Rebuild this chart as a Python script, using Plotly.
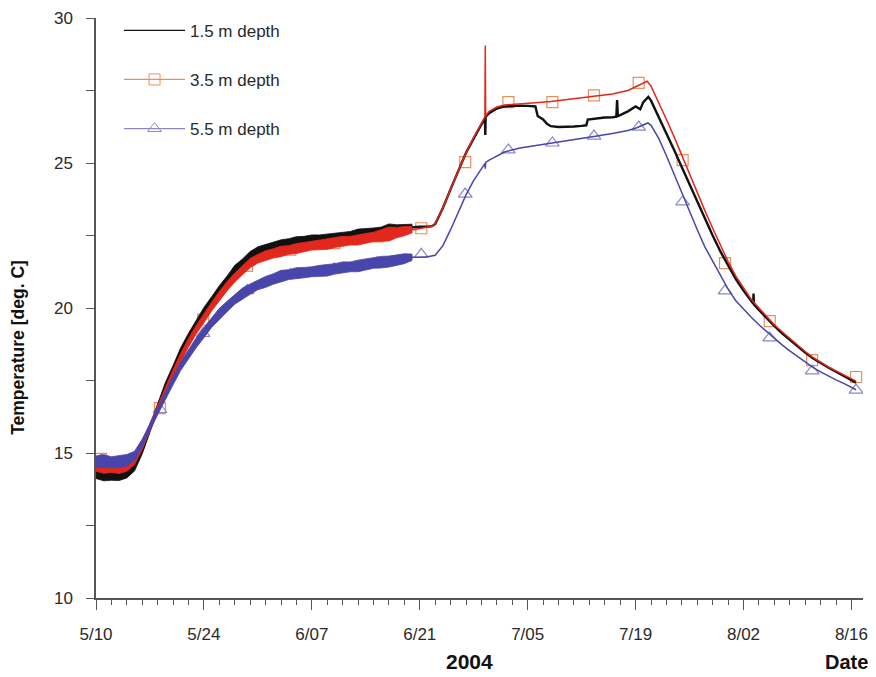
import pandas as pd
import plotly.graph_objects as go

START = pd.Timestamp("2004-05-10")

# ---------------- data (days after 5/10/2004, temperature deg C) ----------------
# noisy period: daily mean and diurnal range
noisy_days = [0, 1, 2, 3, 4, 5, 6, 7, 8, 9, 10, 11, 12, 13, 14, 15, 16, 17, 18, 19, 20,
              21, 22, 23, 24, 25, 26, 27, 28, 29, 30, 31, 32, 33, 34, 35, 36, 37, 38, 39, 40, 41]

d15_mean = [14.35, 14.30, 14.28, 14.30, 14.35, 14.55, 15.10, 15.85, 16.60, 17.30, 17.90,
            18.50, 19.00, 19.45, 19.87, 20.27, 20.63, 20.97, 21.32, 21.57, 21.82,
            21.97, 22.07, 22.14, 22.22, 22.27, 22.32, 22.34, 22.37, 22.40, 22.42,
            22.44, 22.47, 22.52, 22.57, 22.60, 22.62, 22.67, 22.72, 22.74, 22.77, 22.80]
d15_range = [0.46, 0.52, 0.44, 0.50, 0.42, 0.34, 0.26, 0.24, 0.28, 0.26, 0.24,
             0.28, 0.26, 0.26, 0.30, 0.24, 0.28, 0.26, 0.30, 0.24, 0.26,
             0.28, 0.24, 0.30, 0.26, 0.24, 0.28, 0.26, 0.30, 0.24, 0.26,
             0.28, 0.26, 0.24, 0.30, 0.26, 0.28, 0.24, 0.36, 0.26, 0.24, 0.18]

d35_mean = [14.55, 14.50, 14.50, 14.48, 14.55, 14.75, 15.25, 15.90, 16.50, 17.15, 17.75,
            18.30, 18.80, 19.25, 19.65, 20.05, 20.40, 20.75, 21.05, 21.30, 21.55,
            21.70, 21.80, 21.88, 21.95, 22.00, 22.05, 22.10, 22.15, 22.18, 22.20,
            22.25, 22.30, 22.32, 22.35, 22.40, 22.45, 22.50, 22.55, 22.60, 22.65, 22.70]
d35_range = [0.36, 0.40, 0.34, 0.38, 0.36, 0.30, 0.26, 0.24, 0.26, 0.28, 0.26,
             0.28, 0.30, 0.30, 0.32, 0.30, 0.34, 0.32, 0.30, 0.34, 0.32,
             0.30, 0.34, 0.32, 0.36, 0.30, 0.34, 0.32, 0.30, 0.34, 0.36,
             0.32, 0.34, 0.30, 0.36, 0.34, 0.32, 0.38, 0.48, 0.36, 0.32, 0.22]

d55_mean = [14.70, 14.72, 14.68, 14.70, 14.75, 14.90, 15.35, 15.90, 16.45, 17.00, 17.50,
            18.00, 18.40, 18.80, 19.15, 19.50, 19.80, 20.05, 20.30, 20.50, 20.65,
            20.80, 20.90, 21.00, 21.10, 21.15, 21.20, 21.22, 21.25, 21.28, 21.30,
            21.35, 21.40, 21.42, 21.45, 21.50, 21.55, 21.58, 21.60, 21.65, 21.70, 21.75]
d55_range = [0.40, 0.45, 0.38, 0.42, 0.40, 0.32, 0.26, 0.24, 0.26, 0.28, 0.30,
             0.30, 0.32, 0.34, 0.36, 0.34, 0.38, 0.36, 0.34, 0.38, 0.36,
             0.34, 0.38, 0.36, 0.40, 0.34, 0.38, 0.36, 0.34, 0.38, 0.40,
             0.36, 0.38, 0.34, 0.40, 0.38, 0.36, 0.40, 0.38, 0.36, 0.34, 0.22]

# smooth period (after 6/20)
d15_days = [42, 43, 43.6, 44, 45, 46, 47, 48, 49, 50, 50.45, 50.5, 50.55, 51, 52, 53, 54, 55,
            56, 57, 57.3, 58, 58.5, 59, 60, 61, 62, 63, 63.6, 63.8, 65, 66, 67, 67.5, 67.6,
            67.7, 68, 69, 70, 70.6, 71, 71.65, 72, 73, 74, 75, 76, 77, 78, 79, 80, 81, 82,
            83, 84, 85, 85.25, 85.3, 85.35, 86, 87, 88, 89, 90, 91, 92, 93, 94, 95, 96, 97,
            98, 98.6]
d15_temp = [22.80, 22.80, 22.82, 22.90, 23.45, 24.10, 24.75, 25.35, 25.85, 26.35, 26.55,
            25.97, 26.60, 26.72, 26.88, 26.95, 26.97, 26.98, 26.97, 26.95, 26.62, 26.50,
            26.35, 26.27, 26.24, 26.24, 26.26, 26.28, 26.30, 26.50, 26.55, 26.57, 26.58,
            26.60, 27.17, 26.62, 26.65, 26.78, 26.95, 26.85, 27.10, 27.28, 27.15, 26.60,
            26.05, 25.45, 24.85, 24.25, 23.65, 23.05, 22.50, 21.95, 21.45, 21.00, 20.60,
            20.22, 20.15, 20.50, 20.12, 19.93, 19.65, 19.38, 19.13, 18.90, 18.68, 18.46,
            18.27, 18.10, 17.95, 17.80, 17.66, 17.52, 17.42]

d35_days = [42, 43, 43.6, 44, 45, 46, 47, 48, 49, 50, 50.45, 50.5, 50.55, 51, 52, 53, 55, 57,
            59, 61, 63, 65, 67, 69, 70, 71, 71.5, 72, 73, 74, 75, 76, 77, 78, 79, 80, 81, 82,
            83, 84, 85, 86, 87, 88, 89, 90, 91, 92, 93, 94, 95, 96, 97, 98, 98.6]
d35_temp = [22.75, 22.80, 22.82, 22.92, 23.45, 24.10, 24.75, 25.35, 25.88, 26.38, 26.58,
            29.05, 26.62, 26.78, 26.93, 27.00, 27.05, 27.08, 27.12, 27.18, 27.25, 27.30,
            27.38, 27.50, 27.62, 27.75, 27.82, 27.65, 27.10, 26.50, 25.90, 25.25, 24.60,
            23.95, 23.35, 22.75, 22.15, 21.60, 21.10, 20.70, 20.30, 20.00, 19.70, 19.42,
            19.18, 18.95, 18.72, 18.50, 18.30, 18.12, 17.97, 17.83, 17.70, 17.57, 17.48]

d55_days = [42, 43, 44, 45, 46, 47, 48, 49, 50, 50.45, 50.5, 50.55, 51, 52, 53, 55, 57, 59,
            61, 63, 65, 67, 69, 70, 71, 71.6, 72, 73, 74, 75, 76, 77, 78, 79, 80, 81, 82, 83,
            84, 85, 86, 87, 88, 89, 90, 91, 92, 93, 94, 95, 96, 97, 98, 98.6]
d55_temp = [21.75, 21.77, 21.82, 22.15, 22.70, 23.30, 23.90, 24.40, 24.82, 24.98, 24.80,
            25.02, 25.10, 25.25, 25.38, 25.52, 25.60, 25.67, 25.77, 25.85, 25.93, 26.02,
            26.12, 26.20, 26.30, 26.38, 26.30, 25.85, 25.25, 24.60, 23.95, 23.30, 22.70,
            22.10, 21.60, 21.10, 20.65, 20.25, 19.95, 19.68, 19.42, 19.18, 18.95, 18.73,
            18.52, 18.33, 18.13, 17.95, 17.80, 17.65, 17.52, 17.40, 17.27, 17.18]

# symbol positions
marker_days = [0.65, 8.3, 13.9, 19.6, 25.2, 30.9, 36.5, 42.2, 47.9, 53.5, 59.2, 64.6,
               70.4, 76.1, 81.6, 87.4, 92.9, 98.6]
d35_marker_temp = [14.80, 16.55, 19.60, 21.45, 22.01, 22.24, 22.47, 22.75, 25.03, 27.10,
                   27.10, 27.33, 27.76, 25.10, 21.55, 19.55, 18.20, 17.62]
d55_marker_temp = [14.75, 16.50, 19.12, 20.60, 21.16, 21.35, 21.56, 21.85, 23.93, 25.45,
                   25.69, 25.93, 26.24, 23.66, 20.59, 18.97, 17.83, 17.17]

tick_days = [0, 14, 28, 42, 56, 70, 84, 98]
tick_labels = ["5/10", "5/24", "6/07", "6/21", "7/05", "7/19", "8/02", "8/16"]
series_names = ["1.5 m depth", "3.5 m depth", "5.5 m depth"]


def to_dates(days):
    return [START + pd.Timedelta(days=d) for d in days]


C_BLACK = "#111111"
C_RED = "#e2281c"
C_RED_MK = "#e8905c"
C_BLUE = "#4846aa"
C_BLUE_MK = "#8a88c8"

fig = go.Figure()

# symbols (drawn underneath the noisy bands)
fig.add_trace(go.Scatter(x=to_dates(marker_days), y=d35_marker_temp, mode="markers",
                         marker=dict(symbol="square-open", size=11, color=C_RED_MK,
                                     line=dict(width=1.2)), showlegend=False, hoverinfo="skip"))
fig.add_trace(go.Scatter(x=to_dates(marker_days), y=d55_marker_temp, mode="markers",
                         marker=dict(symbol="triangle-up-open", size=12, color=C_BLUE_MK,
                                     line=dict(width=1.2)), showlegend=False, hoverinfo="skip"))


def add_series(mean, rng, days, temp, color, width):
    hi = [m + r / 2 for m, r in zip(mean, rng)]
    lo = [m - r / 2 for m, r in zip(mean, rng)]
    fig.add_trace(go.Scatter(x=to_dates(noisy_days + noisy_days[::-1]), y=hi + lo[::-1],
                             fill="toself", fillcolor=color, mode="lines",
                             line=dict(color=color, width=0.8),
                             showlegend=False, hoverinfo="skip"))
    fig.add_trace(go.Scatter(x=to_dates(noisy_days + days), y=mean + temp, mode="lines",
                             line=dict(color=color, width=width), showlegend=False))


add_series(d15_mean, d15_range, d15_days, d15_temp, C_BLACK, 2.4)
add_series(d35_mean, d35_range, d35_days, d35_temp, C_RED, 1.5)
add_series(d55_mean, d55_range, d55_days, d55_temp, C_BLUE, 1.5)

# legend entries
fig.add_trace(go.Scatter(x=[None], y=[None], mode="lines", name=series_names[0],
                         line=dict(color=C_BLACK, width=1.2), legendgroup="a"))
fig.add_trace(go.Scatter(x=[None], y=[None], mode="lines+markers", name=series_names[1],
                         line=dict(color=C_RED_MK, width=1.2), legendgroup="b",
                         marker=dict(symbol="square-open", size=11, color=C_RED_MK)))
fig.add_trace(go.Scatter(x=[None], y=[None], mode="lines+markers", name=series_names[2],
                         line=dict(color=C_BLUE_MK, width=1.2), legendgroup="c",
                         marker=dict(symbol="triangle-up-open", size=12, color=C_BLUE_MK)))

AX = "#555555"
FONT = "Liberation Sans, Arial, sans-serif"
x_range = [START, START + pd.Timedelta(days=99.5)]

# the page body adds an 8 px offset, so the figure is 8 px smaller than the window
fig.update_layout(
    width=868, height=669,
    margin=dict(l=88, r=13, t=10, b=79, autoexpand=False),
    paper_bgcolor="white", plot_bgcolor="white",
    font=dict(family=FONT, size=18, color="#2a2a2a"),
    showlegend=True,
    legend=dict(x=0.030, y=1.009, xanchor="left", yanchor="top", bgcolor="rgba(0,0,0,0)",
                font=dict(size=17, color="#2a2a2a"), tracegroupgap=24, itemwidth=61),
    xaxis=dict(range=x_range, showgrid=False, zeroline=False, automargin=False,
               showline=True, linecolor=AX, linewidth=1.5,
               tickmode="array", tickvals=to_dates(tick_days), ticktext=tick_labels,
               ticks="outside", ticklen=10, tickcolor=AX, tickwidth=1,
               ticklabelstandoff=10,
               tickfont=dict(size=17, color="#2a2a2a"),
               minor=dict(ticks="outside", ticklen=5, tickcolor=AX, tickwidth=1,
                          dtick=2 * 86400000, tick0="2004-05-10")),
    xaxis2=dict(range=x_range, overlaying="x", anchor="y", side="bottom", automargin=False,
                showgrid=False, zeroline=False, showline=False, showticklabels=False,
                tickmode="array", tickvals=to_dates(tick_days),
                ticks="inside", ticklen=10, tickcolor=AX, tickwidth=1,
                minor=dict(ticks="inside", ticklen=4, tickcolor=AX, tickwidth=1,
                           dtick=2 * 86400000, tick0="2004-05-10")),
    yaxis=dict(range=[10, 30], showgrid=False, zeroline=False, automargin=False,
               showline=True, linecolor=AX, linewidth=1.5,
               tickmode="array", tickvals=[10, 15, 20, 25, 30],
               ticks="outside", ticklen=8, tickcolor=AX, tickwidth=1,
               ticklabelstandoff=10,
               tickfont=dict(size=17, color="#2a2a2a"),
               minor=dict(ticks="outside", ticklen=8, tickcolor=AX, tickwidth=1,
                          dtick=2.5, tick0=10)),
    annotations=[
        dict(text="<b>Temperature [deg. C]</b>", textangle=-90, xref="paper", yref="paper",
             x=-0.1017, y=0.433, xanchor="center", yanchor="middle", showarrow=False,
             font=dict(size=17.5, color="#111111")),
        dict(text="<b>2004</b>", xref="paper", yref="paper", x=0.4876, y=-0.110,
             xanchor="center", yanchor="middle", showarrow=False,
             font=dict(size=21, color="#111111")),
        dict(text="<b>Date</b>", xref="paper", yref="paper", x=0.978, y=-0.110,
             xanchor="center", yanchor="middle", showarrow=False,
             font=dict(size=20, color="#111111")),
    ],
)

fig.write_html("out.html")
